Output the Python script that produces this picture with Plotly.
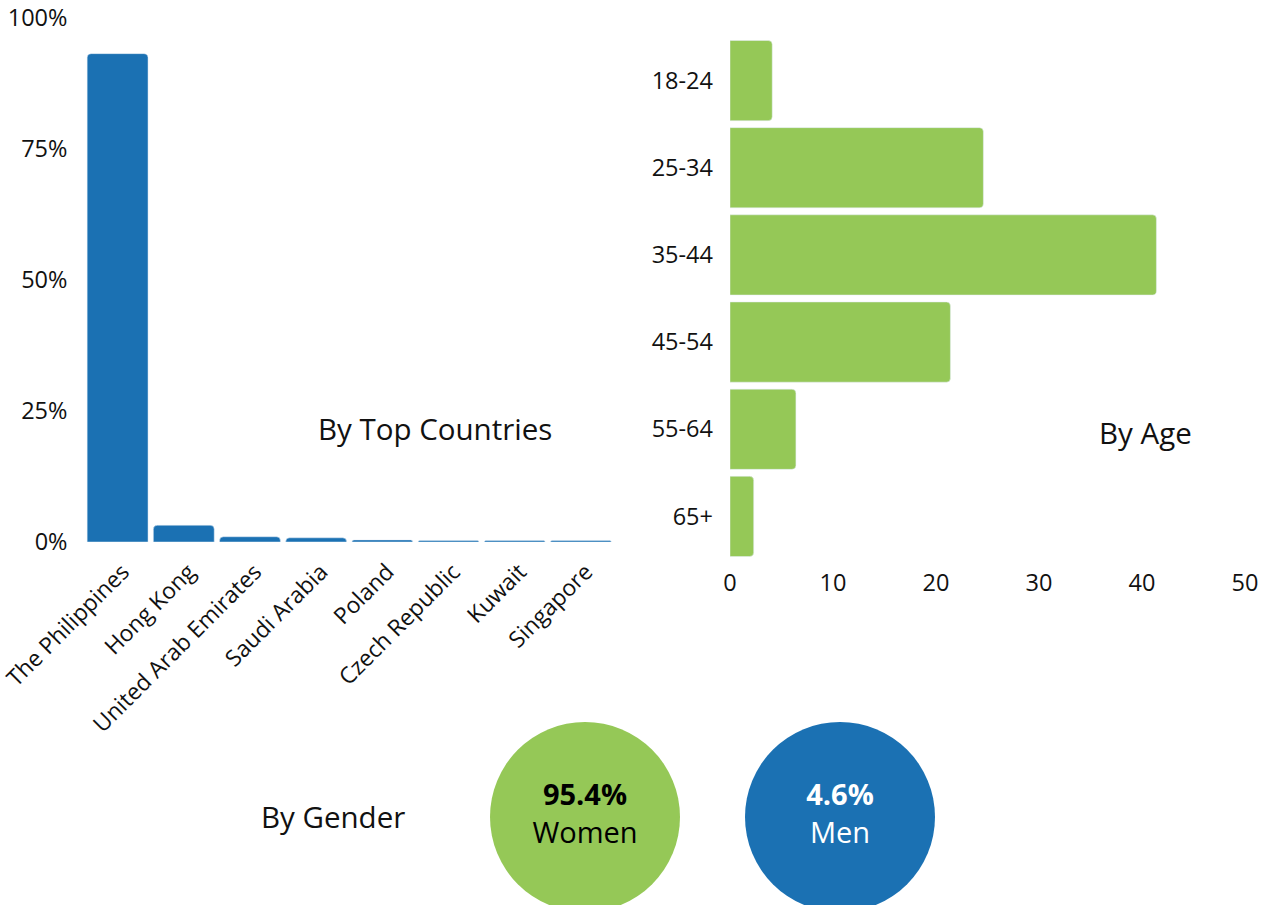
import plotly.graph_objects as go

# Data
countries = ["The Philippines", "Hong Kong", "United Arab Emirates", "Saudi Arabia",
             "Poland", "Czech Republic", "Kuwait", "Singapore"]
country_pct = [93.2, 3.2, 1.0, 0.8, 0.4, 0.3, 0.3, 0.3]

age_groups = ["18-24", "25-34", "35-44", "45-54", "55-64", "65+"]
age_pct = [4.1, 24.6, 41.4, 21.4, 6.4, 2.3]

genders = ["Women", "Men"]
gender_pct = [95.4, 4.6]

country_ticks = [0, 25, 50, 75, 100]
country_ticktext = [f"{v}%" for v in country_ticks]
age_ticks = [0, 10, 20, 30, 40, 50]

BLUE = "#1b71b3"
GREEN = "#95c857"
FONT = "Open Sans"
W, H = 1270, 905

fig = go.Figure()

fig.add_trace(go.Bar(x=countries, y=country_pct, marker_color=BLUE,
                     xaxis="x", yaxis="y", hoverinfo="x+y"))
fig.add_trace(go.Bar(x=age_pct, y=age_groups, orientation="h", marker_color=GREEN,
                     xaxis="x2", yaxis="y2", hoverinfo="x+y"))
fig.add_trace(go.Scatter(
    x=genders, y=[0, 0], mode="markers+text",
    marker=dict(size=190, color=[GREEN, BLUE], line=dict(width=0)),
    text=[f"<b>{v}%</b><br>{g}" for v, g in zip(gender_pct, genders)],
    textposition="middle center",
    textfont=dict(family=FONT, size=29, color=["#000000", "#ffffff"]),
    cliponaxis=False, xaxis="x3", yaxis="y3", hoverinfo="skip"))

def px(x):
    return x / W

def py(y):
    return (H - y) / H

tickfont = dict(family=FONT, size=23.5, color="#111111")
xcatfont = dict(family=FONT, size=22.8, color="#111111")
annfont = dict(family=FONT, size=29.5, color="#111111")

fig.update_layout(
    width=W, height=H,
    margin=dict(l=0, r=0, t=0, b=0, autoexpand=False),
    paper_bgcolor="white", plot_bgcolor="white",
    showlegend=False,
    bargap=0.08,
    barcornerradius=4,
    font=dict(family=FONT, size=23.5, color="#111111"),
    xaxis=dict(domain=[px(84.5), px(614)], showgrid=False, zeroline=False,
               showline=False, tickangle=-45, tickfont=xcatfont, automargin=False,
               ticklabelstandoff=11, ticklabelshift=5, fixedrange=True),
    yaxis=dict(domain=[py(542), py(18)], range=[0, 100], tickmode="array",
               tickvals=country_ticks, ticktext=country_ticktext,
               showgrid=False, zeroline=False, showline=False, automargin=False,
               tickfont=tickfont, ticklabelstandoff=16, fixedrange=True),
    xaxis2=dict(domain=[px(730), px(1245)], anchor="y2", range=[0, 50],
                tickvals=age_ticks, showgrid=False, zeroline=False, showline=False,
                tickfont=tickfont, ticklabelstandoff=6, automargin=False,
                fixedrange=True),
    yaxis2=dict(domain=[py(560), py(37)], anchor="x2", autorange="reversed",
                showgrid=False, zeroline=False, showline=False, automargin=False,
                tickfont=tickfont, ticklabelstandoff=16, fixedrange=True),
    xaxis3=dict(domain=[px(457.5), px(967.5)], anchor="y3", range=[-0.5, 1.5],
                visible=False, fixedrange=True, automargin=False),
    yaxis3=dict(domain=[0.0, 2 * py(817)], anchor="x3", range=[-1, 1],
                visible=False, fixedrange=True, automargin=False),
    annotations=[
        dict(text="By Top Countries", x=px(435), y=py(428), xref="paper", yref="paper",
             showarrow=False, font=annfont, xanchor="center", yanchor="middle"),
        dict(text="By Age", x=px(1145), y=py(432), xref="paper", yref="paper",
             showarrow=False, font=annfont, xanchor="center", yanchor="middle"),
        dict(text="By Gender", x=px(333), y=py(816), xref="paper", yref="paper",
             showarrow=False, font=annfont, xanchor="center", yanchor="middle"),
    ],
)

fig.write_html("out.html")
